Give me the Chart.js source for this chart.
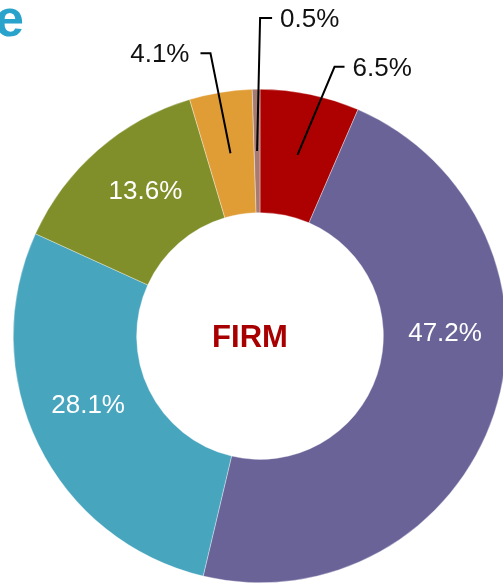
<!DOCTYPE html>
<html>
<head>
<meta charset="utf-8">
<script src="https://cdn.jsdelivr.net/npm/chart.js@4"></script>
<style>
  html, body { margin: 0; padding: 0; background: #fff; overflow: hidden; width: 503px; height: 586px; }
  #wrap { position: relative; width: 503px; height: 586px; overflow: hidden; }
  #title { position: absolute; left: -5px; top: -15px; margin: 0; font: bold 52px "Liberation Sans", Arial, sans-serif; color: #2AA3CC; line-height: 66px; }
  canvas { position: absolute; left: 0; top: 0; }
</style>
</head>
<body>
<div id="wrap">
  <h1 id="title">e</h1>
  <canvas id="chart" width="520" height="586"></canvas>
</div>
<script>
// Data (clockwise from 12 o'clock)
const categories = ['Red', 'Purple', 'Blue', 'Olive', 'Orange', 'Brown'];
const shares = [6.5, 47.2, 28.1, 13.6, 4.1, 0.5];
const sliceColors = ['#AD0000', '#6A6398', '#47A5BE', '#808F2A', '#E09C35', '#A87B72'];
const centerText = 'FIRM';

// Label placement: inside labels sit at a fraction of the slice's sweep,
// outside labels get a leader line (elbow offset from the ring middle)
const labelStyle = [
  { inside: false, elbow: [37, -88], tail: 10 },
  { inside: true, at: 0.386 },
  { inside: true, at: 0.543 },
  { inside: true, at: 0.557 },
  { inside: false, elbow: [-20, -100], tail: -10 },
  { inside: false, elbow: [3, -133], tail: 12 }
];

const FONT = '"Liberation Sans", Arial, sans-serif';

const labelPlugin = {
  id: 'sliceLabels',
  afterDraw(chart) {
    const ctx = chart.ctx;
    const arcs = chart.getDatasetMeta(0).data;
    ctx.save();
    arcs.forEach((arc, i) => {
      const st = labelStyle[i];
      const { x, y, startAngle, endAngle, innerRadius, outerRadius } = arc.getProps(['x', 'y', 'startAngle', 'endAngle', 'innerRadius', 'outerRadius'], true);
      const midR = (innerRadius + outerRadius) / 2;
      const text = shares[i].toFixed(1) + '%';
      ctx.font = '26px ' + FONT;
      ctx.textBaseline = 'middle';
      if (st.inside) {
        const a = startAngle + st.at * (endAngle - startAngle);
        ctx.fillStyle = '#fff';
        ctx.textAlign = 'center';
        ctx.fillText(text, x + midR * Math.cos(a), y + midR * Math.sin(a) + 1);
      } else {
        const a = (startAngle + endAngle) / 2;
        const sx = x + midR * Math.cos(a);
        const sy = y + midR * Math.sin(a);
        const ex = sx + st.elbow[0];
        const ey = sy + st.elbow[1];
        const tx = ex + st.tail;
        ctx.strokeStyle = '#000';
        ctx.lineWidth = 2;
        ctx.beginPath();
        ctx.moveTo(sx, sy);
        ctx.lineTo(ex, ey);
        ctx.lineTo(tx, ey);
        ctx.stroke();
        ctx.fillStyle = '#111';
        ctx.textAlign = st.tail > 0 ? 'left' : 'right';
        ctx.fillText(text, tx + (st.tail > 0 ? 8 : -11), ey + 2);
      }
    });
    // centre caption
    const c = arcs[0];
    ctx.font = 'bold 31px ' + FONT;
    ctx.fillStyle = '#A80000';
    ctx.textAlign = 'center';
    ctx.textBaseline = 'middle';
    ctx.fillText(centerText, c.x - 10, c.y + 2);
    ctx.restore();
  }
};

new Chart(document.getElementById('chart'), {
  type: 'doughnut',
  data: {
    labels: categories,
    datasets: [{
      data: shares,
      backgroundColor: sliceColors,
      borderColor: 'rgba(255,255,255,0.7)',
      borderWidth: 0.5,
      hoverOffset: 0
    }]
  },
  options: {
    responsive: false,
    animation: false,
    events: [],
    cutout: '50%',
    layout: { padding: { left: 13, top: 89, right: 13, bottom: 3 } },
    plugins: {
      legend: { display: false },
      tooltip: { enabled: false },
      title: { display: false }
    }
  },
  plugins: [labelPlugin]
});
</script>
</body>
</html>
